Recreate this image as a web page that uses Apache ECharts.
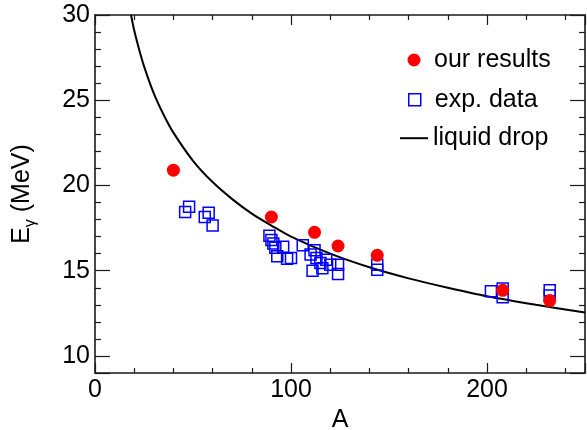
<!DOCTYPE html>
<html>
<head>
<meta charset="utf-8">
<script src="https://cdn.jsdelivr.net/npm/echarts@6/dist/echarts.min.js"></script>
<style>
html,body{margin:0;padding:0;background:#fff;}
#chart{width:587px;height:430px;}
</style>
</head>
<body>
<div id="chart"></div>
<script>
// Data
const ourA = [40, 90, 112, 124, 144, 208, 232];
const ourE = [20.9, 18.15, 17.25, 16.45, 15.9, 13.85, 13.25];

const expA = [46, 48, 56, 58, 60, 89, 90, 91, 92, 93, 96, 98, 100, 106, 110, 111, 112, 113, 115, 116, 118, 120, 124, 124, 144, 144, 202, 208, 208, 232, 232];
const expE = [18.45, 18.75, 18.15, 18.4, 17.65, 17.05, 16.8, 16.6, 16.35, 15.85, 16.4, 15.7, 15.75, 16.5, 15.95, 15.0, 16.2, 15.75, 15.45, 15.15, 15.65, 15.35, 15.35, 14.8, 15.35, 15.05, 13.8, 13.95, 13.45, 13.85, 13.55];

const ldA = [18.4, 20, 22, 25, 30, 35, 40, 50, 60, 70, 80, 90, 100, 120, 140, 160, 180, 200, 225, 250];
const ldE = [30.0, 29.1, 28.2, 27.0, 25.4, 24.15, 23.1, 21.45, 20.2, 19.2, 18.35, 17.65, 17.0, 16.0, 15.2, 14.55, 14.0, 13.5, 13.0, 12.55];

const xTickLabels = [0, 100, 200];
const yTickLabels = [10, 15, 20, 25, 30];

const zip = (a, b) => a.map((v, i) => [v, b[i]]);

const FONT = 'Liberation Sans, Arial, sans-serif';
const AX = '#1a1a1a';

const chart = echarts.init(document.getElementById('chart'), null, {renderer: 'canvas'});

const xCommon = {
  type: 'value', min: 0, max: 250, interval: 100,
  axisLine: {show: true, onZero: false, lineStyle: {color: AX, width: 1.6}},
  splitLine: {show: false},
  minorTick: {show: true, splitNumber: 5, length: 5, lineStyle: {color: AX, width: 1.2}},
  minorSplitLine: {show: false}
};
const yCommon = {
  type: 'value', min: 9, max: 30, splitNumber: 4,
  axisLine: {show: true, onZero: false, lineStyle: {color: AX, width: 1.6}},
  splitLine: {show: false},
  minorTick: {show: true, splitNumber: 5, length: 6, lineStyle: {color: AX, width: 1.2}},
  minorSplitLine: {show: false}
};

const squarePath = 'path://M0,0L10,0L10,10L0,10Z';
const legendText = {fontSize: 25, color: '#000', fontFamily: FONT};

chart.setOption({
  animation: false,
  backgroundColor: '#fff',
  textStyle: {fontFamily: FONT},
  grid: {left: 95, right: 2, top: 15, bottom: 57, containLabel: false, outerBoundsMode: 'none'},
  legend: [
    {
      orient: 'vertical', left: 407.5, top: 47.5, padding: 0,
      itemWidth: 30, itemHeight: 13, selectedMode: false,
      textStyle: legendText,
      data: [{name: 'our results', icon: 'circle', itemStyle: {color: '#ff0000'}}]
    },
    {
      orient: 'vertical', left: 408, top: 87.3, padding: 0,
      itemWidth: 30, itemHeight: 12, selectedMode: false,
      textStyle: legendText,
      data: [{name: 'exp. data', icon: squarePath,
              itemStyle: {color: 'rgba(0,0,0,0)', borderColor: '#0000ff', borderWidth: 1.5}}]
    },
    {
      orient: 'vertical', left: 400, top: 125.7, padding: 0,
      itemWidth: 28, itemHeight: 2, selectedMode: false,
      textStyle: legendText,
      data: [{name: 'liquid drop', icon: 'rect', itemStyle: {color: '#000', borderWidth: 0}}]
    }
  ],
  xAxis: [
    Object.assign({}, xCommon, {
      position: 'bottom',
      name: 'A', nameLocation: 'middle', nameGap: 34,
      nameTextStyle: {fontSize: 25, color: '#000', fontFamily: FONT},
      axisTick: {show: true, inside: true, length: 10, lineStyle: {color: AX, width: 1.2}},
      axisLabel: {show: true, margin: 5, fontSize: 25, color: '#000', fontFamily: FONT,
        formatter: v => (xTickLabels.indexOf(v) >= 0 ? String(v) : '')}
    }),
    Object.assign({}, xCommon, {
      position: 'top',
      axisTick: {show: true, inside: true, length: 10, lineStyle: {color: AX, width: 1.2}},
      axisLabel: {show: false}
    })
  ],
  yAxis: [
    Object.assign({}, yCommon, {
      position: 'left',
      name: '{e|E}{g|γ}{t| (MeV)}', nameLocation: 'middle', nameGap: 56,
      nameTextStyle: {fontSize: 25, color: '#000', fontFamily: FONT,
        rich: {
          e: {fontSize: 25, color: '#000', fontFamily: FONT, lineHeight: 34},
          g: {fontSize: 16, color: '#000', fontFamily: FONT, lineHeight: 16, verticalAlign: 'bottom'},
          t: {fontSize: 25, color: '#000', fontFamily: FONT, lineHeight: 34}
        }},
      axisTick: {show: true, inside: true, length: 15, lineStyle: {color: AX, width: 1.2}},
      axisLabel: {show: true, margin: 5, fontSize: 25, color: '#000', fontFamily: FONT,
        formatter: v => (yTickLabels.indexOf(v) >= 0 ? String(v) : '')}
    }),
    Object.assign({}, yCommon, {
      position: 'right',
      axisTick: {show: true, inside: true, length: 15, lineStyle: {color: AX, width: 1.2}},
      axisLabel: {show: false}
    })
  ],
  series: [
    {
      name: 'liquid drop', type: 'line', data: zip(ldA, ldE),
      xAxisIndex: 0, yAxisIndex: 0,
      smooth: 0.3, symbol: 'none', showSymbol: false, clip: true,
      lineStyle: {color: '#000', width: 2}, itemStyle: {color: '#000'}, z: 2
    },
    {
      name: 'exp. data', type: 'scatter', data: zip(expA, expE),
      xAxisIndex: 0, yAxisIndex: 0,
      symbol: 'rect', symbolSize: 11,
      itemStyle: {color: 'rgba(0,0,0,0)', borderColor: '#0000ff', borderWidth: 1.5, opacity: 1}, z: 3
    },
    {
      name: 'our results', type: 'scatter', data: zip(ourA, ourE),
      xAxisIndex: 0, yAxisIndex: 0,
      symbol: 'circle', symbolSize: 13,
      itemStyle: {color: '#ff0000', opacity: 1}, z: 4
    }
  ]
});
</script>
</body>
</html>
